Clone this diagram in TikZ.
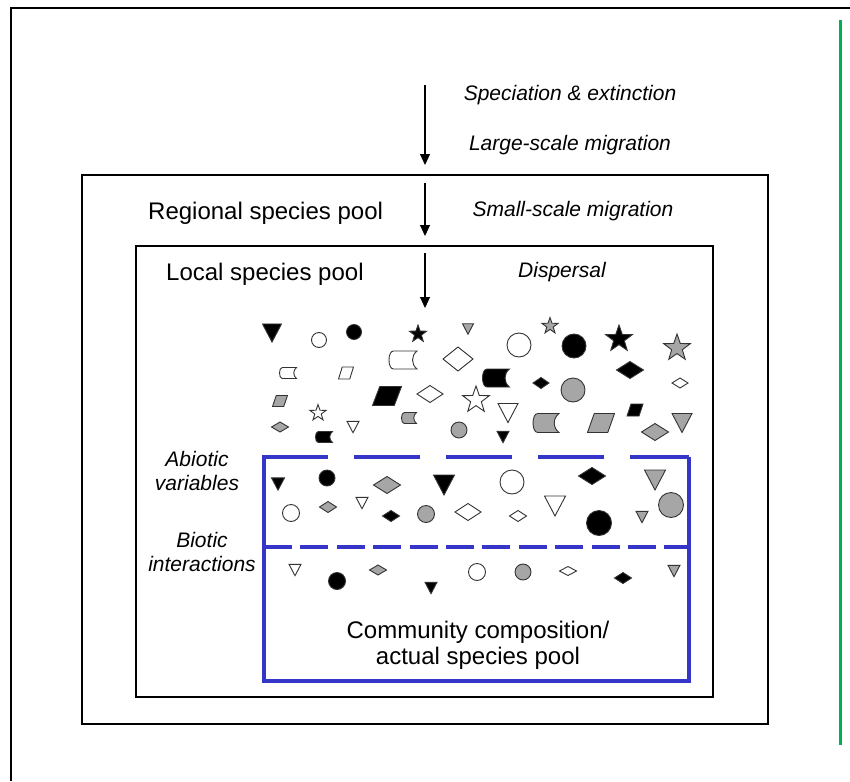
\documentclass[tikz,border=0pt]{standalone}
\usepackage{fontspec}
\setmainfont{Liberation Sans}
\usetikzlibrary{arrows.meta}
\definecolor{ShapeGray}{HTML}{A6A6A6}
\definecolor{PoolBlue}{HTML}{3535C8}
\definecolor{EdgeGreen}{HTML}{00B050}

\begin{document}
\begin{tikzpicture}[x=1pt, y=-1pt,
    frm/.style={line width=2.2pt, black},
    shp/.style={line width=0.9pt, draw=black!80},
    poolline/.style={line width=4.5pt, PoolBlue},
    flowarrow/.style={line width=1.1pt, -{Triangle[length=11pt,width=10pt]}},
    proc/.style={font=\fontsize{21}{24}\selectfont\itshape, inner sep=0pt},
    pool/.style={font=\fontsize{24}{26}\selectfont, inner sep=0pt}]
    \useasboundingbox (0,0) rectangle (850,781);
    \fill[white] (0,0) rectangle (850,781);
    % page frame and margin line
    \draw[frm] (850,8) -- (11,8) -- (11,781);
    \draw[line width=3pt, EdgeGreen] (840,20) -- (840,745);
    % nested pools
    \draw[frm] (82,175) rectangle (768,724);
    \draw[frm] (136,246) rectangle (713,697);
    % actual pool (blue), top and middle are filters
    \draw[poolline] (264,457) -- (264,681) -- (689,681) -- (689,457);
    \draw[poolline, dash pattern=on 66pt off 26pt] (262,457) -- (689,457);
    \draw[poolline, dash pattern=on 28pt off 8.4pt] (264,547) -- (689,547);
    % processes
    \node[proc] (spec) at (570,95) {Speciation \& extinction};
    \node[proc] (large) at (570,145) {Large-scale migration};
    \node[proc] (small) at (573,211) {Small-scale migration};
    \node[proc] (disp) at (562,272) {Dispersal};
    \node[proc, align=center] (abiotic) at (197,471) {Abiotic\\variables};
    \node[proc, align=center] (biotic) at (202,552) {Biotic\\interactions};
    % pool names
    \node[pool, anchor=west] (regional) at (148,213) {Regional species pool};
    \node[pool, anchor=west] (local) at (166,274) {Local species pool};
    \node[pool, align=center] (community) at (478,645) {Community composition/\\actual species pool};
    % arrows
    \coordinate (a1s) at (425,85);  \coordinate (a1e) at (425,165);
    \coordinate (a2s) at (425,183); \coordinate (a2e) at (425,236);
    \coordinate (a3s) at (425,253); \coordinate (a3e) at (425,308);
    \draw[flowarrow] (a1s) -- (a1e);
    \draw[flowarrow] (a2s) -- (a2e);
    \draw[flowarrow] (a3s) -- (a3e);
    % species: triangles x/y/width/fill
    \foreach \x/\y/\w/\fc in {272/333/19/black,468/329/11/ShapeGray,508/413/20/white,
        682/423/20/ShapeGray,353/427/12/white,503/437/12/black,278/484/13/black,
        444/485/21/black,362/503/12/white,655/480/21/ShapeGray,555/506/21/white,
        642/517/12/ShapeGray,295/570/12/white,431/588/12/black,674/571/12/ShapeGray}{
      \filldraw[shp, fill=\fc] (\x-\w/2,\y-\w*0.475) -- (\x+\w/2,\y-\w*0.475) -- (\x,\y+\w*0.475) -- cycle;
    }
    % circles x/y/radius/fill
    \foreach \x/\y/\rad/\fc in {319/340/7.5/white,354/332/7.5/black,519/345/12/white,
        574/346/12/black,573/390/12/ShapeGray,459/430/8/ShapeGray,327/478/8/black,
        512/482/12/white,291/513/8.5/white,426/514/8.5/ShapeGray,599/523/12.5/black,
        671/505/12.5/ShapeGray,337/581/8.5/black,477/572/8.5/white,523/572/8/ShapeGray}{
      \filldraw[shp, fill=\fc] (\x,\y) circle[radius=\rad];
    }
    % diamonds x/y/width/height/fill
    \foreach \x/\y/\w/\h/\fc in {458/359/30/24/white,541/383/16/11/black,630/370/27/17/black,
        680/383/16/10/white,430/394/26/17/white,655/432/27/17/ShapeGray,280/427/17/10/ShapeGray,
        387/485/27/17/ShapeGray,328/507/17/11/ShapeGray,391/516/17/11/black,468/512/26/17/white,
        592/476/27/17/black,518/516/17/11/white,378/570/17/10/ShapeGray,568/571/17/9/white,
        623/578/17/11/black}{
      \filldraw[shp, fill=\fc] (\x-\w/2,\y) -- (\x,\y-\h/2) -- (\x+\w/2,\y) -- (\x,\y+\h/2) -- cycle;
    }
    % parallelograms x/y/width/height/fill
    \foreach \x/\y/\w/\h/\fc in {346/373/15/12/white,387/396/29/19/black,280/401/15/11/ShapeGray,
        601/423/27/19/ShapeGray,635/410/16/12/black}{
      \filldraw[shp, fill=\fc] (\x-\w/2,\y+\h/2) -- (\x+\w/2-\w*0.25,\y+\h/2)
        -- (\x+\w/2,\y-\h/2) -- (\x-\w/2+\w*0.25,\y-\h/2) -- cycle;
    }
    % drums x/y/width/height/fill
    \foreach \x/\y/\w/\h/\fc in {288/373/17/11/white,403/360/28/18/white,496/378/27/18/black,
        409/418/15/11/ShapeGray,546/423/26/19/ShapeGray,324/437/17/11/black}{
      \filldraw[shp, fill=\fc] (\x-\w/2+\h*0.25,\y-\h/2) -- (\x+\w/2,\y-\h/2)
        .. controls (\x+\w/2-\h/3,\y-\h/4) and (\x+\w/2-\h/3,\y+\h/4) .. (\x+\w/2,\y+\h/2)
        -- (\x-\w/2+\h*0.25,\y+\h/2)
        .. controls (\x-\w/2-\h/12,\y+\h/2) and (\x-\w/2-\h/12,\y-\h/2) .. cycle;
    }
    % stars x/y/radius/fill
    \foreach \x/\y/\rad/\fc in {418/334/9/black,550/326/8.5/ShapeGray,619/339/14/black,
        677/348/14/ShapeGray,318/413/8.5/white,476/400/14/white}{
      \filldraw[shp, fill=\fc, shift={(\x,\y)}] (-90:\rad)
        \foreach \kk in {1,...,9}{ -- ({-90+36*\kk}:{\rad*(0.7+0.3*cos(180*\kk))}) } -- cycle;
    }
\end{tikzpicture}
\end{document}
